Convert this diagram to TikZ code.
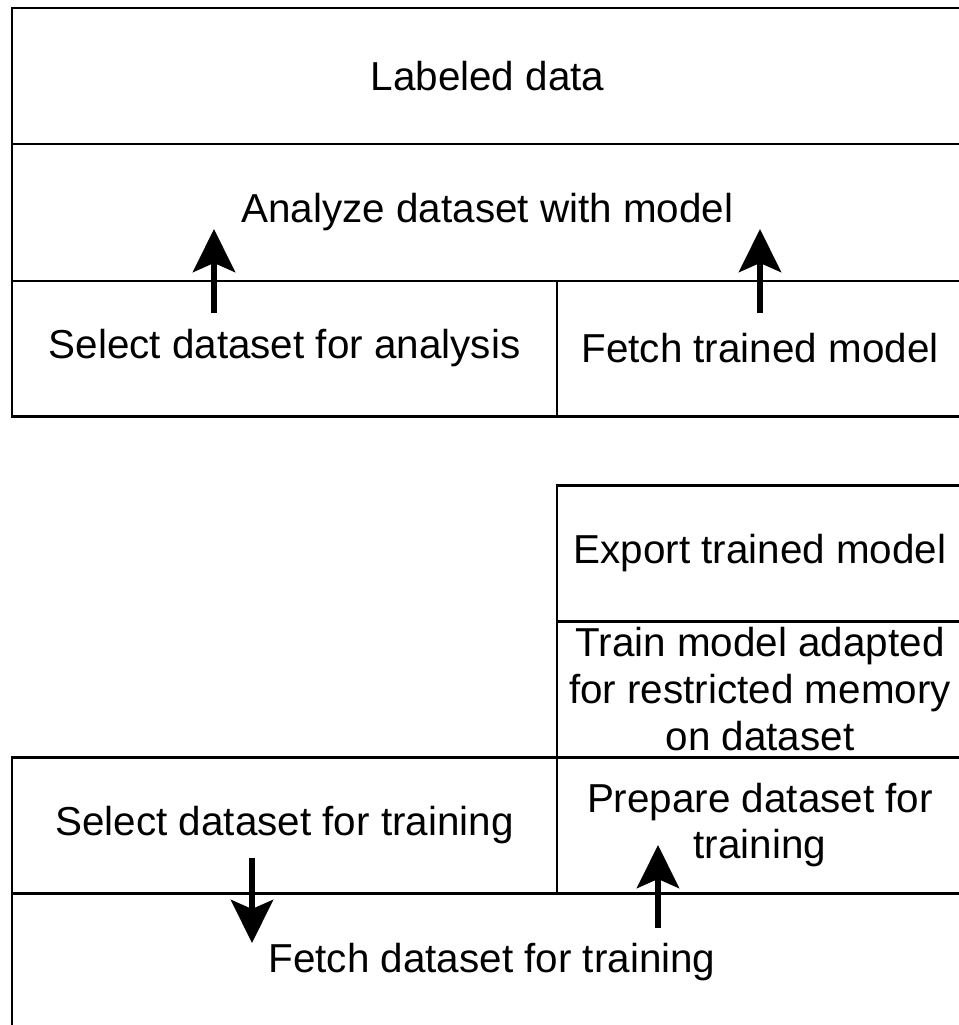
\documentclass[tikz,border=0pt]{standalone}
\usepackage{fontspec}
\setmainfont{Liberation Sans}
\usetikzlibrary{arrows.meta}

\tikzset{
    frame/.style={line width=1.7pt},
    label/.style={font=\fontsize{23}{26.5}\selectfont, align=center},
    flow/.style={line width=3.6pt, -{Stealth[length=0.86cm, width=0.84cm, inset=0.18cm]}}
}

\begin{document}
\begin{tikzpicture}[x=0.02cm, y=-0.02cm]
    \useasboundingbox (0,0) rectangle (958,1025);

    % Analysis stack
    \draw[frame] (12,8) rectangle (963,144);
    \node[label] (labeled) at (487.5,76) {Labeled data};

    \draw[frame] (12,144) rectangle (963,281);
    \node[label] (analyze) at (487.5,212.5) {Analyze dataset with model};

    \draw[frame] (12,281) rectangle (557,416);
    \node[label] (selana) at (284.5,348.5) {Select dataset for analysis};

    \draw[frame] (557,281) rectangle (963,416);
    \node[label] (fetchmodel) at (760,348.5) {Fetch trained model};

    % Training stack
    \draw[frame] (557,485) rectangle (963,621);
    \node[label] (export) at (760,553) {Export trained model};

    \draw[frame] (557,621) rectangle (963,757);
    \node[label] (train) at (760,689) {Train model adapted\\for restricted memory\\on dataset};

    \draw[frame] (12,757) rectangle (557,893);
    \node[label] (seltrain) at (284.5,825) {Select dataset for training};

    \draw[frame] (557,757) rectangle (963,893);
    \node[label] (prepare) at (760,825) {Prepare dataset for\\training};

    \draw[frame] (12,893) rectangle (972,1031);
    \node[label] (fetchdata) at (492,962) {Fetch dataset for training};

    % Arrows
    \coordinate (selanaout) at (214,313);
    \coordinate (analyzein) at (214,229);
    \coordinate (modelout) at (760,313);
    \coordinate (modelin) at (760,229);
    \coordinate (seltrainout) at (252,858);
    \coordinate (fetchdatain) at (252,943);
    \coordinate (fetchdataout) at (658,928);
    \coordinate (preparein) at (658,845);

    \draw[flow] (selanaout) -- (analyzein);
    \draw[flow] (modelout) -- (modelin);
    \draw[flow] (seltrainout) -- (fetchdatain);
    \draw[flow] (fetchdataout) -- (preparein);
\end{tikzpicture}
\end{document}
